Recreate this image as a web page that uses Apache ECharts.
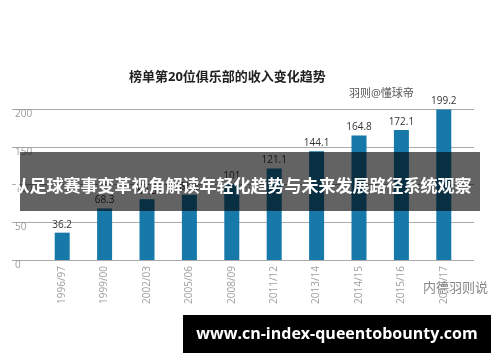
<!DOCTYPE html>
<html><head><meta charset="utf-8">
<script src="https://cdn.jsdelivr.net/npm/echarts@6/dist/echarts.min.js"></script>
<style>html,body{margin:0;padding:0;background:#fff}#c{width:500px;height:362px}</style>
</head><body><div id="c"></div>
<script>
var seasons = ['1996/97','1999/00','2002/03','2005/06','2008/09','2011/12','2013/14','2014/15','2015/16','2016/17'];
var revenue = [36.2, 68.3, 80.5, 86.3, 101, 121.1, 144.1, 164.8, 172.1, 199.2];
var yTicks = [0, 50, 100, 150, 200];
var titleText = '榜单第20位俱乐部的收入变化趋势';
var sourceText = '羽则@懂球帝';
var bannerText = '从足球赛事变革视角解读年轻化趋势与未来发展路径系统观察';
var urlText = 'www.cn-index-queentobounty.com';
var markText = '内德羽则说';

var chart = echarts.init(document.getElementById('c'), null, {renderer:'canvas'});
var cjk = '"Open Sans","Noto Sans CJK SC",sans-serif';
chart.setOption({
  backgroundColor:'#fff',
  animation:false,
  title:[
    {text:titleText,left:124,top:66,textStyle:{fontSize:13,fontWeight:'bold',color:'#222',fontFamily:cjk}},
    {text:sourceText,left:344,top:83,textStyle:{fontSize:11,fontWeight:'normal',color:'#555',fontFamily:cjk}}
  ],
  grid:[
    {left:41,right:35,top:109,bottom:102,outerBoundsMode:'none'},
    {left:12,right:26,top:109,bottom:102,outerBoundsMode:'none'}
  ],
  xAxis:[
    {type:'category',gridIndex:0,data:seasons,axisLine:{show:false},axisTick:{show:false},
     axisLabel:{rotate:90,margin:6,fontSize:10,color:'#a0a0a0',fontFamily:cjk,interval:0}},
    {type:'value',gridIndex:1,min:0,max:1,show:false}
  ],
  yAxis:[
    {type:'value',gridIndex:0,min:0,max:200,show:false},
    {type:'value',gridIndex:1,min:yTicks[0],max:yTicks[yTicks.length-1],interval:50,
     axisLine:{show:false},axisTick:{show:false},
     splitLine:{show:true,lineStyle:{color:'#aaa',width:1}},
     axisLabel:{inside:true,align:'left',verticalAlign:'top',margin:3,fontSize:10,color:'#999',fontFamily:cjk,
       formatter:function(v){return yTicks.indexOf(v)>=0?String(v):'';}}}
  ],
  series:[{
    type:'bar',xAxisIndex:0,yAxisIndex:0,data:revenue,barWidth:15,
    itemStyle:{color:'#1779a9'},
    label:{show:true,position:'top',distance:3,fontSize:10,color:'#333',fontFamily:cjk},
    z:2
  }],
  graphic:[
    {type:'rect',z:100,zlevel:1,shape:{x:20,y:152,width:460,height:59},style:{fill:'rgba(0,0,0,0.61)'}},
    {type:'text',z:101,zlevel:1,x:242,y:186,style:{text:bannerText,fill:'#fff',fontSize:17,fontWeight:'bold',fontFamily:'Noto Sans CJK SC',align:'center',verticalAlign:'middle'}},
    {type:'text',z:101,zlevel:1,x:423,y:287,style:{text:markText,fill:'#888',fontSize:13,fontFamily:'Noto Sans CJK SC',align:'left',verticalAlign:'middle'}},
    {type:'rect',z:100,zlevel:1,shape:{x:183,y:315,width:308,height:38},style:{fill:'#000'}},
    {type:'text',z:101,zlevel:1,x:337,y:334,style:{text:urlText,fill:'#fff',fontSize:16,fontWeight:'bold',fontFamily:'Open Sans',align:'center',verticalAlign:'middle'}}
  ]
});
</script></body></html>
